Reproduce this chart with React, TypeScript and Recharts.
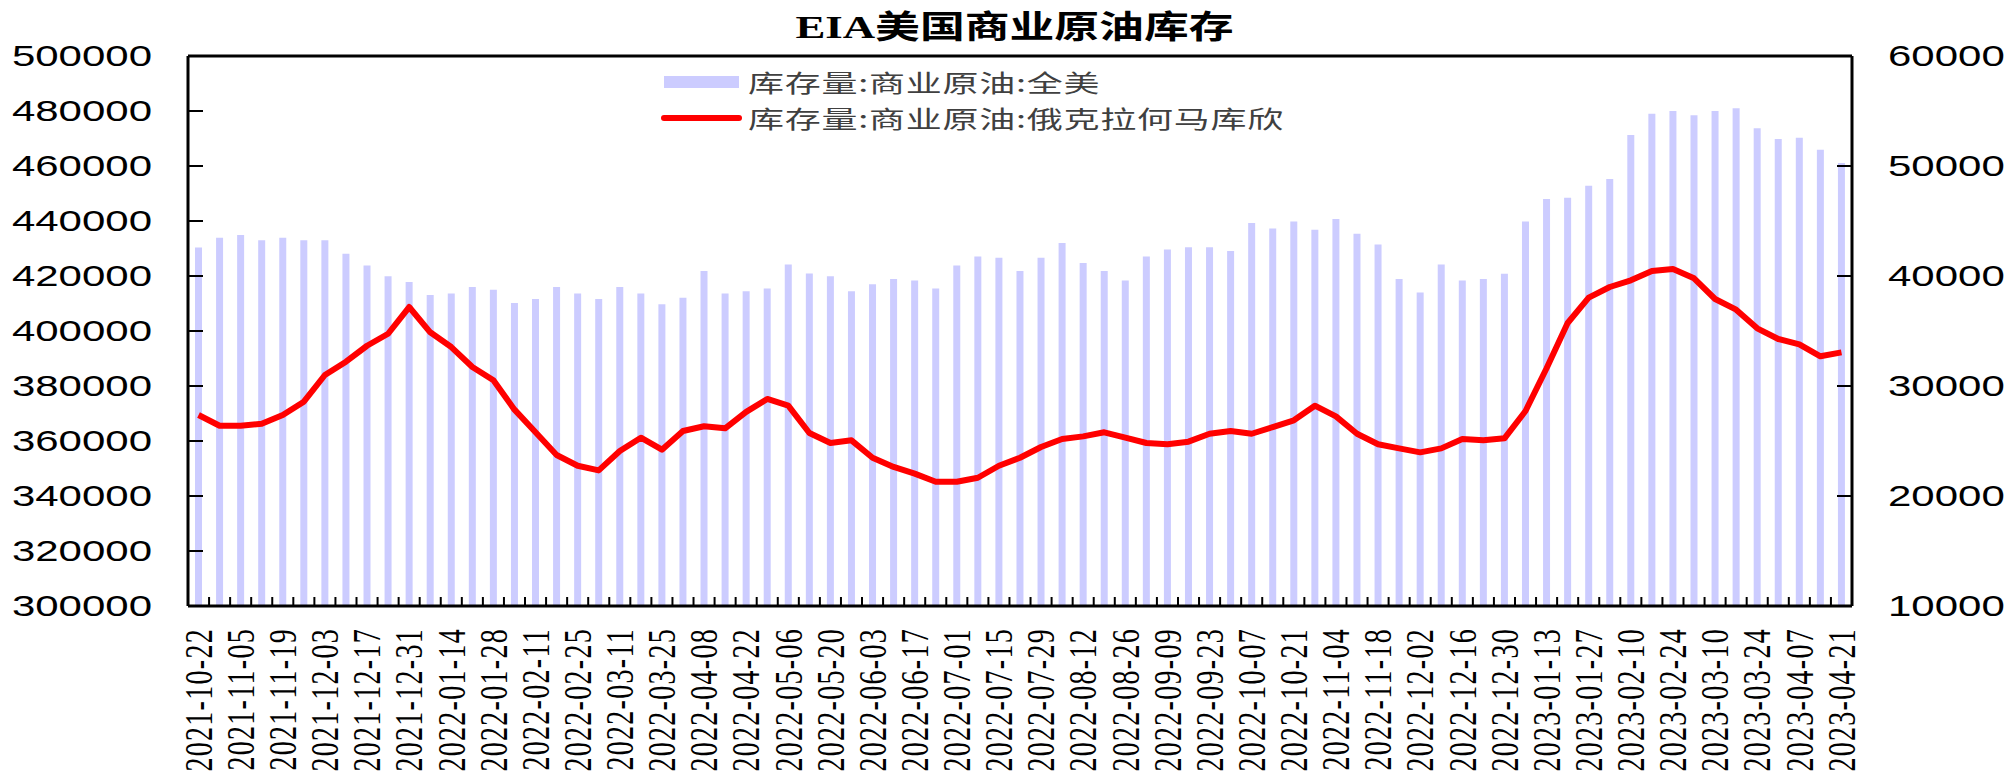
import React from "react";
import { ComposedChart, Bar, Line, XAxis, YAxis, Legend, ReferenceLine } from "recharts";

// 周度日期（2021-10-22 ~ 2023-04-21）
const dates = [
  "2021-10-22", "2021-10-29", "2021-11-05", "2021-11-12", "2021-11-19", "2021-11-26",
  "2021-12-03", "2021-12-10", "2021-12-17", "2021-12-24", "2021-12-31",
  "2022-01-07", "2022-01-14", "2022-01-21", "2022-01-28", "2022-02-04", "2022-02-11",
  "2022-02-18", "2022-02-25", "2022-03-04", "2022-03-11", "2022-03-18", "2022-03-25",
  "2022-04-01", "2022-04-08", "2022-04-15", "2022-04-22", "2022-04-29", "2022-05-06",
  "2022-05-13", "2022-05-20", "2022-05-27", "2022-06-03", "2022-06-10", "2022-06-17",
  "2022-06-24", "2022-07-01", "2022-07-08", "2022-07-15", "2022-07-22", "2022-07-29",
  "2022-08-05", "2022-08-12", "2022-08-19", "2022-08-26", "2022-09-02", "2022-09-09",
  "2022-09-16", "2022-09-23", "2022-09-30", "2022-10-07", "2022-10-14", "2022-10-21",
  "2022-10-28", "2022-11-04", "2022-11-11", "2022-11-18", "2022-11-25", "2022-12-02",
  "2022-12-09", "2022-12-16", "2022-12-23", "2022-12-30",
  "2023-01-06", "2023-01-13", "2023-01-20", "2023-01-27", "2023-02-03", "2023-02-10",
  "2023-02-17", "2023-02-24", "2023-03-03", "2023-03-10", "2023-03-17", "2023-03-24",
  "2023-03-31", "2023-04-07", "2023-04-14", "2023-04-21",
];

// 库存量:商业原油:全美（左轴）
const usTotal = [
  430400, 433900, 434900, 433000, 433900, 433000, 433000, 428100, 423800, 419900,
  417800, 413100, 413600, 416000, 415000, 410200, 411600, 416000, 413600, 411600,
  416000, 413600, 409700, 412100, 421800, 413600, 414500, 415500, 424200, 420900,
  419900, 414500, 417000, 418900, 418400, 415500, 423800, 427100, 426600, 421800,
  426600, 432000, 424700, 421800, 418400, 427100, 429600, 430500, 430500, 429100,
  439300, 437300, 439800, 436800, 440700, 435400, 431500, 418900, 414000, 424200,
  418400, 418900, 420800, 439800, 448000, 448500, 452800, 455300, 471300, 479000,
  480000, 478500, 480000, 481000, 473700, 469800, 470300, 465900, 461100,
];

// 库存量:商业原油:俄克拉何马库欣（右轴）
const cushing = [
  27360, 26390, 26390, 26570, 27360, 28570, 31000, 32210, 33660, 34750,
  37180, 34880, 33540, 31730, 30520, 27850, 25790, 23730, 22750, 22330,
  24090, 25300, 24210, 25910, 26340, 26150, 27650, 28820, 28210, 25730,
  24820, 25060, 23480, 22640, 22030, 21300, 21300, 21660, 22750, 23480,
  24450, 25180, 25420, 25790, 25300, 24820, 24700, 24940, 25660, 25910,
  25660, 26270, 26880, 28210, 27240, 25660, 24700, 24330, 23970, 24330,
  25180, 25060, 25240, 27730, 31610, 35730, 38030, 39000, 39610, 40450,
  40640, 39790, 37910, 36940, 35240, 34270, 33790, 32700, 33060,
];

const leftTicks = [300000, 320000, 340000, 360000, 380000, 400000, 420000, 440000, 460000, 480000, 500000];
const rightTicks = [10000, 20000, 30000, 40000, 50000, 60000];

const data = dates.map((date, i) => ({ date, total: usTotal[i], cushing: cushing[i] }));

const W = 2010;
const H = 777;
const LEFT_W = 188;
const RIGHT_W = 158;
const X_H = 171;
const BAND = (W - LEFT_W - RIGHT_W) / dates.length;
const STRETCH = 1.4; // 原图横向拉伸
const SANS = "'Liberation Sans', Arial, sans-serif";
const SERIF = "'Liberation Serif', 'Times New Roman', serif";
const CJK = "'Noto Sans CJK SC', 'Noto Sans', sans-serif";

function LeftTick({ x, y, payload }: any) {
  return (
    <g>
      <line x1={x} y1={y} x2={x + 15} y2={y} stroke="#000" strokeWidth={2} />
      <text
        transform={`translate(${x - 36},${y}) scale(${STRETCH},1)`}
        textAnchor="end"
        dominantBaseline="central"
        fontSize={30}
        fontFamily={SANS}
        fill="#000"
      >
        {payload.value}
      </text>
    </g>
  );
}

function RightTick({ x, y, payload }: any) {
  return (
    <g>
      <line x1={x} y1={y} x2={x - 15} y2={y} stroke="#000" strokeWidth={2} />
      <text
        transform={`translate(${x + 36},${y}) scale(${STRETCH},1)`}
        textAnchor="start"
        dominantBaseline="central"
        fontSize={30}
        fontFamily={SANS}
        fill="#000"
      >
        {payload.value}
      </text>
    </g>
  );
}

function BottomTick({ x, y, payload, index }: any) {
  const bx = x + BAND / 2;
  return (
    <g>
      <line x1={bx} y1={y} x2={bx} y2={y - 9} stroke="#000" strokeWidth={2} />
      {index % 2 === 0 && (
        <text
          transform={`translate(${x},${y + 22}) scale(${STRETCH},1) rotate(-90)`}
          textAnchor="end"
          dominantBaseline="central"
          fontSize={28}
          letterSpacing={1.3}
          fontFamily={SERIF}
          fill="#000"
        >
          {payload.value}
        </text>
      )}
    </g>
  );
}

function LegendContent({ payload }: any) {
  // 柱在上、线在下
  const items = [...(payload || [])].sort(
    (a: any, b: any) => (a.type === "line" ? 1 : 0) - (b.type === "line" ? 1 : 0)
  );
  return (
    <div style={{ position: "relative" }}>
      {items.map((entry: any, i: number) => (
        <div
          key={entry.value}
          style={{
            position: "absolute",
            left: 661,
            top: 82 + 36 * i - 16,
            height: 32,
            display: "flex",
            alignItems: "center",
            whiteSpace: "nowrap",
          }}
        >
          {entry.type === "line" ? (
            <div style={{ width: 81, height: 6, borderRadius: 3, background: entry.color }} />
          ) : (
            <div style={{ width: 75, height: 12, marginLeft: 3, marginRight: 3, background: entry.color }} />
          )}
          <span
            style={{
              marginLeft: 6,
              display: "inline-block",
              transform: "scaleX(1.5)",
              transformOrigin: "left center",
              fontSize: 24,
              letterSpacing: 0.5,
              lineHeight: "32px",
              color: "#404040",
              fontFamily: CJK,
            }}
          >
            {entry.value}
          </span>
        </div>
      ))}
    </div>
  );
}

export default function App() {
  return (
    <div style={{ position: "relative", width: W, height: H, background: "#fff" }}>
      <style>{`body{margin:0}`}</style>
      <div
        style={{
          position: "absolute",
          left: 0,
          top: 10,
          width: W,
          textAlign: "center",
          lineHeight: "34px",
          pointerEvents: "none",
        }}
      >
        <span
          style={{
            display: "inline-block",
            transform: `scaleX(${STRETCH})`,
            fontSize: 32,
            fontWeight: "bold",
            fontFamily: `'Liberation Serif', ${CJK}`,
            color: "#000",
            marginLeft: 18,
          }}
        >
          EIA美国商业原油库存
        </span>
      </div>
      <ComposedChart
        width={W}
        height={H}
        data={data}
        margin={{ top: 56, right: 0, bottom: 0, left: 0 }}
      >
        <XAxis
          dataKey="date"
          xAxisId="x"
          height={X_H}
          interval={0}
          tickLine={false}
          tickSize={0}
          tickMargin={0}
          axisLine={{ stroke: "#000", strokeWidth: 3 }}
          tick={<BottomTick />}
        />
        <YAxis
          yAxisId="left"
          orientation="left"
          width={LEFT_W}
          domain={[300000, 500000]}
          ticks={leftTicks}
          interval={0}
          tickLine={false}
          tickSize={0}
          tickMargin={0}
          axisLine={{ stroke: "#000", strokeWidth: 3 }}
          tick={<LeftTick />}
        />
        <YAxis
          yAxisId="right"
          orientation="right"
          width={RIGHT_W}
          domain={[10000, 60000]}
          ticks={rightTicks}
          interval={0}
          tickLine={false}
          tickSize={0}
          tickMargin={0}
          axisLine={{ stroke: "#000", strokeWidth: 3 }}
          tick={<RightTick />}
        />
        <Legend
          layout="vertical"
          align="center"
          verticalAlign="middle"
          wrapperStyle={{ left: 0, top: 0, width: 0, height: 0 }}
          content={<LegendContent />}
        />
        <Bar
          xAxisId="x"
          yAxisId="left"
          dataKey="total"
          name="库存量:商业原油:全美"
          fill="#CCCCFF"
          barSize={7}
          isAnimationActive={false}
        />
        <Line
          xAxisId="x"
          yAxisId="right"
          dataKey="cushing"
          name="库存量:商业原油:俄克拉何马库欣"
          type="linear"
          stroke="#FF0000"
          strokeWidth={6}
          strokeLinejoin="round"
          dot={false}
          isAnimationActive={false}
        />
        <ReferenceLine xAxisId="x" yAxisId="left" y={500000} stroke="#000" strokeWidth={3} />
      </ComposedChart>
    </div>
  );
}
